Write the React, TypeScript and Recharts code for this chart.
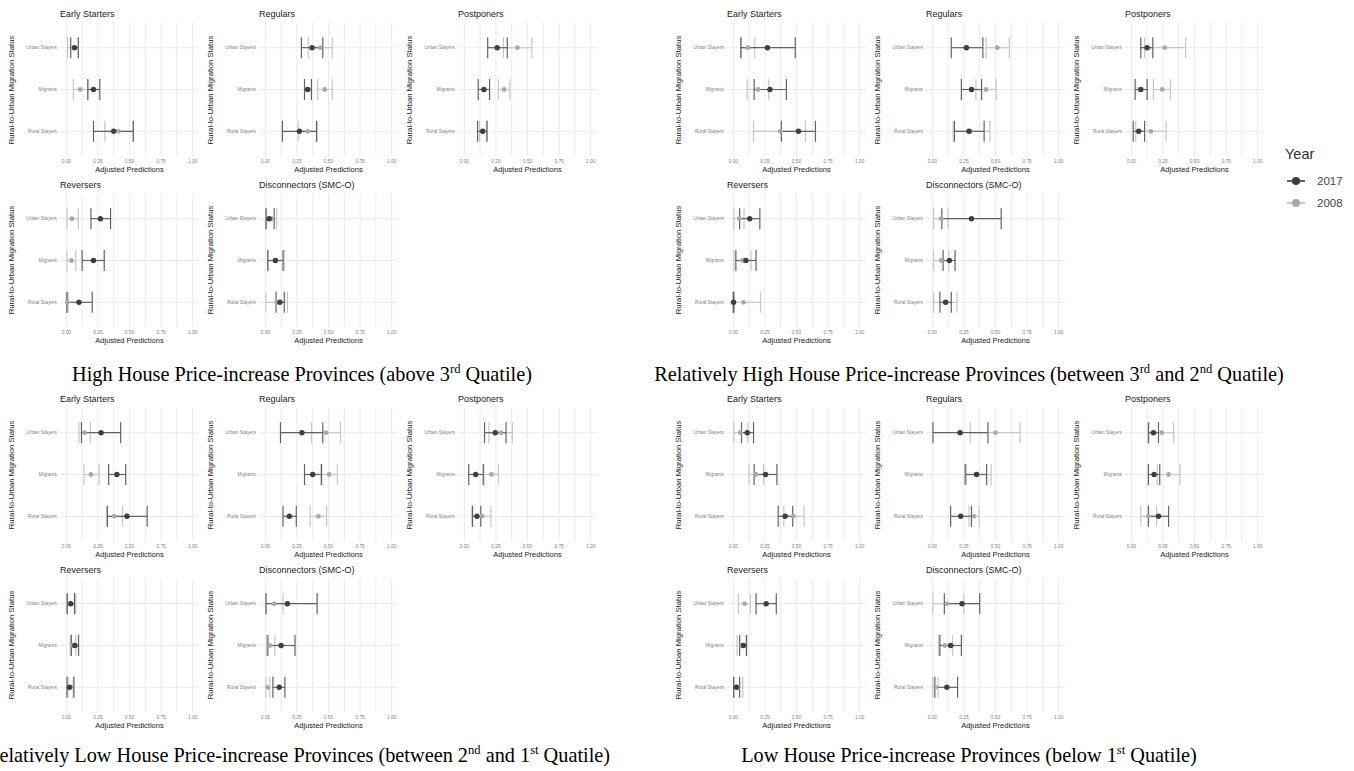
import { CartesianGrid, ErrorBar, Scatter, ScatterChart, XAxis, YAxis } from "recharts";

// y = 1..3 from bottom to top
const STATUS = ["Rural Stayers", "Migrants", "Urban Stayers"];
const CLASSES = ["Early Starters", "Regulars", "Postponers", "Reversers", "Disconnectors (SMC-O)"];
const X_TICKS = [0, 0.25, 0.5, 0.75, 1];
const X_GRID = [0, 0.125, 0.25, 0.375, 0.5, 0.625, 0.75, 0.875, 1];

type Est = [number, number, number]; // estimate, lower, upper

// per class: [Urban Stayers, Migrants, Rural Stayers]
const high2017: Est[][] = [
  [[0.065, 0.035, 0.095], [0.215, 0.17, 0.265], [0.375, 0.215, 0.53]],
  [[0.37, 0.285, 0.455], [0.335, 0.31, 0.365], [0.27, 0.135, 0.405]],
  [[0.26, 0.185, 0.34], [0.155, 0.11, 0.2], [0.145, 0.105, 0.18]],
  [[0.27, 0.195, 0.35], [0.215, 0.125, 0.3], [0.1, 0.005, 0.205]],
  [[0.03, 0.005, 0.07], [0.08, 0.02, 0.14], [0.115, 0.085, 0.15]],
];
const high2008: Est[][] = [
  [[0.055, 0.01, 0.095], [0.11, 0.055, 0.17], [0.415, 0.305, 0.53]],
  [[0.435, 0.34, 0.53], [0.47, 0.415, 0.53], [0.335, 0.26, 0.41]],
  [[0.42, 0.31, 0.535], [0.315, 0.27, 0.36], [0.15, 0.12, 0.175]],
  [[0.045, 0.005, 0.095], [0.04, 0.005, 0.075], [0.008, 0.001, 0.015]],
  [[0.05, 0.01, 0.09], [0.08, 0.02, 0.15], [0.09, 0.005, 0.175]],
];
const relHigh2017: Est[][] = [
  [[0.27, 0.06, 0.49], [0.29, 0.165, 0.42], [0.515, 0.38, 0.65]],
  [[0.27, 0.15, 0.4], [0.31, 0.23, 0.39], [0.29, 0.175, 0.41]],
  [[0.125, 0.075, 0.17], [0.075, 0.03, 0.125], [0.058, 0.015, 0.105]],
  [[0.13, 0.05, 0.21], [0.1, 0.02, 0.18], [0.002, 0.0, 0.005]],
  [[0.31, 0.075, 0.545], [0.135, 0.085, 0.18], [0.105, 0.06, 0.15]],
];
const relHigh2008: Est[][] = [
  [[0.115, 0.06, 0.17], [0.195, 0.11, 0.28], [0.37, 0.16, 0.57]],
  [[0.515, 0.425, 0.61], [0.425, 0.345, 0.505], [0.305, 0.165, 0.455]],
  [[0.265, 0.105, 0.43], [0.245, 0.175, 0.31], [0.155, 0.035, 0.275]],
  [[0.047, 0.005, 0.085], [0.075, 0.005, 0.14], [0.08, 0.0, 0.215]],
  [[0.07, 0.01, 0.125], [0.07, 0.01, 0.13], [0.1, 0.01, 0.195]],
];
const relLow2017: Est[][] = [
  [[0.275, 0.12, 0.43], [0.4, 0.335, 0.47], [0.48, 0.325, 0.64]],
  [[0.29, 0.12, 0.455], [0.375, 0.31, 0.445], [0.19, 0.14, 0.245]],
  [[0.245, 0.16, 0.33], [0.09, 0.035, 0.15], [0.1, 0.065, 0.13]],
  [[0.035, 0.008, 0.065], [0.068, 0.04, 0.097], [0.025, 0.005, 0.06]],
  [[0.175, 0.005, 0.41], [0.125, 0.02, 0.235], [0.11, 0.06, 0.155]],
];
const relLow2008: Est[][] = [
  [[0.145, 0.1, 0.19], [0.195, 0.14, 0.26], [0.38, 0.32, 0.445]],
  [[0.48, 0.365, 0.595], [0.505, 0.44, 0.57], [0.42, 0.355, 0.485]],
  [[0.29, 0.195, 0.38], [0.215, 0.155, 0.27], [0.14, 0.06, 0.21]],
  [[0.03, 0.0, 0.075], [0.05, 0.03, 0.075], [0.035, 0.015, 0.055]],
  [[0.07, 0.005, 0.14], [0.035, 0.01, 0.075], [0.02, 0.005, 0.035]],
];
const low2017: Est[][] = [
  [[0.11, 0.065, 0.16], [0.255, 0.165, 0.345], [0.41, 0.355, 0.47]],
  [[0.22, 0.005, 0.44], [0.35, 0.26, 0.43], [0.225, 0.145, 0.31]],
  [[0.175, 0.135, 0.215], [0.18, 0.135, 0.225], [0.215, 0.135, 0.295]],
  [[0.26, 0.18, 0.34], [0.08, 0.05, 0.105], [0.025, 0.003, 0.05]],
  [[0.235, 0.095, 0.375], [0.145, 0.06, 0.23], [0.115, 0.02, 0.2]],
];
const low2008: Est[][] = [
  [[0.055, 0.005, 0.115], [0.18, 0.125, 0.24], [0.475, 0.4, 0.56]],
  [[0.5, 0.3, 0.695], [0.355, 0.27, 0.465], [0.33, 0.29, 0.37]],
  [[0.24, 0.14, 0.335], [0.295, 0.205, 0.385], [0.135, 0.075, 0.2]],
  [[0.09, 0.04, 0.135], [0.065, 0.03, 0.1], [0.035, 0.005, 0.075]],
  [[0.115, 0.005, 0.25], [0.1, 0.05, 0.16], [0.025, 0.005, 0.045]],
];

const DARK = "#3d3d4a";
const LIGHT = "#aaaaa2";
const DARK_BAR = "#626266";
const LIGHT_BAR = "#c8c8c0";
const TICK_GREY = "#808080";

const PANEL_W = 199;
const PANEL_H = 176;
const ROW_STEP = 170.5;
const PLOT_TOP = 22.6;
const PLOT_H = 133.8;
const Y_AXIS_W = 60;

const toPoints = (rows: Est[]) =>
  rows.map(([v, lo, hi], i) => ({ x: v, y: 3 - i, err: [v - lo, hi - v] }));

const dot = (r: number, fill: string) => (props: any) => {
  if (props.cx == null || props.cy == null) return <g />;
  return <circle cx={props.cx} cy={props.cy} r={r} fill={fill} />;
};

// plain text tick so the status names stay on one line
const StatusTick = (props: any) => (
  <text x={props.x} y={props.y} dy="0.35em" textAnchor="end" fontSize={4.8} fill={TICK_GREY}>
    {STATUS[props.payload.value - 1]}
  </text>
);

function Panel({
  title,
  est17,
  est08,
  left,
  top,
}: {
  title: string;
  est17: Est[];
  est08: Est[];
  left: number;
  top: number;
}) {
  const plotCenterX = Y_AXIS_W + (PANEL_W - Y_AXIS_W) / 2;
  return (
    <div style={{ position: "absolute", left, top, width: PANEL_W, height: PANEL_H }}>
      <div
        style={{
          position: "absolute",
          left: Y_AXIS_W,
          top: 8,
          fontSize: 9,
          lineHeight: "12px",
          color: "#1a1a1a",
          whiteSpace: "nowrap",
        }}
      >
        {title}
      </div>
      <ScatterChart
        width={PANEL_W}
        height={PANEL_H}
        margin={{ top: PLOT_TOP, right: 0, bottom: 0, left: 0 }}
      >
        <CartesianGrid stroke="#ebebeb" verticalValues={X_GRID} horizontalValues={[1, 2, 3]} />
        <XAxis
          type="number"
          dataKey="x"
          domain={[-0.05, 1.05]}
          allowDataOverflow
          ticks={X_TICKS}
          interval={0}
          tickFormatter={(v: number) => v.toFixed(2)}
          height={PANEL_H - PLOT_TOP - PLOT_H}
          axisLine={false}
          tickLine={false}
          tickSize={0}
          tickMargin={3.5}
          tick={{ fontSize: 4.8, fill: TICK_GREY }}
        />
        <YAxis
          type="number"
          dataKey="y"
          domain={[0.4, 3.6]}
          allowDataOverflow
          ticks={[1, 2, 3]}
          interval={0}
          width={Y_AXIS_W}
          axisLine={false}
          tickLine={false}
          tickSize={0}
          tickMargin={3}
          tick={<StatusTick />}
        />
        <Scatter data={toPoints(est08)} shape={dot(2.4, LIGHT)} isAnimationActive={false}>
          <ErrorBar dataKey="err" direction="x" width={10.5} stroke={LIGHT_BAR} strokeWidth={1.2} />
        </Scatter>
        <Scatter data={toPoints(est17)} shape={dot(2.7, DARK)} isAnimationActive={false}>
          <ErrorBar dataKey="err" direction="x" width={10.5} stroke={DARK_BAR} strokeWidth={1.2} />
        </Scatter>
      </ScatterChart>
      <div
        style={{
          position: "absolute",
          left: plotCenterX - 60,
          width: 120,
          top: 165,
          textAlign: "center",
          fontSize: 7.5,
          lineHeight: "10px",
          color: "#222",
        }}
      >
        Adjusted Predictions
      </div>
      <div style={{ position: "absolute", left: 12, top: PLOT_TOP + PLOT_H / 2, width: 0, height: 0 }}>
        <div
          style={{
            position: "absolute",
            transform: "translate(-50%, -50%) rotate(-90deg)",
            fontSize: 7.7,
            lineHeight: "10px",
            color: "#222",
            whiteSpace: "nowrap",
          }}
        >
          Rural-to-Urban Migration Status
        </div>
      </div>
    </div>
  );
}

function Block({ left, top, est17, est08 }: { left: number; top: number; est17: Est[][]; est08: Est[][] }) {
  return (
    <>
      {CLASSES.map((name, i) => {
        const row = i < 3 ? 0 : 1;
        const col = i < 3 ? i : i - 3;
        return (
          <Panel
            key={name}
            title={name}
            est17={est17[i]}
            est08={est08[i]}
            left={left + col * PANEL_W}
            top={top + row * ROW_STEP}
          />
        );
      })}
    </>
  );
}

function Caption({ cx, cy, children }: { cx: number; cy: number; children: any }) {
  return (
    <div
      style={{
        position: "absolute",
        left: cx - 400,
        width: 800,
        top: cy - 12,
        lineHeight: "24px",
        textAlign: "center",
        fontFamily: '"Liberation Serif", "Times New Roman", serif',
        fontSize: 20.3,
        color: "#000",
        whiteSpace: "nowrap",
      }}
    >
      {children}
    </div>
  );
}

const supStyle = { fontSize: "0.62em", lineHeight: 0 };

function LegendKey({ top, color, line, label }: { top: number; color: string; line: string; label: string }) {
  return (
    <div style={{ position: "absolute", left: 1286, top: top - 8, height: 16, display: "flex", alignItems: "center" }}>
      <svg width={20} height={16}>
        <line x1={1} y1={8} x2={19} y2={8} stroke={line} strokeWidth={2} />
        <circle cx={10} cy={8} r={4} fill={color} />
      </svg>
      <span style={{ marginLeft: 11, fontSize: 11.5, color: "#444" }}>{label}</span>
    </div>
  );
}

export default function App() {
  return (
    <div
      style={{
        position: "absolute",
        left: 0,
        top: 0,
        width: 1354,
        height: 771,
        overflow: "hidden",
        background: "#fff",
        fontFamily: '"Liberation Sans", Arial, sans-serif',
      }}
    >
      <Block left={0} top={0} est17={high2017} est08={high2008} />
      <Block left={667} top={0} est17={relHigh2017} est08={relHigh2008} />
      <Block left={0} top={385} est17={relLow2017} est08={relLow2008} />
      <Block left={667} top={385} est17={low2017} est08={low2008} />

      <Caption cx={302} cy={374}>
        High House Price-increase Provinces (above 3<sup style={supStyle}>rd</sup> Quatile)
      </Caption>
      <Caption cx={969} cy={374}>
        Relatively High House Price-increase Provinces (between 3<sup style={supStyle}>rd</sup> and 2
        <sup style={supStyle}>nd</sup> Quatile)
      </Caption>
      <Caption cx={298} cy={755}>
        Relatively Low House Price-increase Provinces (between 2<sup style={supStyle}>nd</sup> and 1
        <sup style={supStyle}>st</sup> Quatile)
      </Caption>
      <Caption cx={969} cy={755}>
        Low House Price-increase Provinces (below 1<sup style={supStyle}>st</sup> Quatile)
      </Caption>

      <div style={{ position: "absolute", left: 1285, top: 145, fontSize: 14.5, lineHeight: "18px", color: "#333" }}>
        Year
      </div>
      <LegendKey top={181} color={DARK} line={DARK_BAR} label="2017" />
      <LegendKey top={203} color={LIGHT} line={LIGHT_BAR} label="2008" />
    </div>
  );
}
